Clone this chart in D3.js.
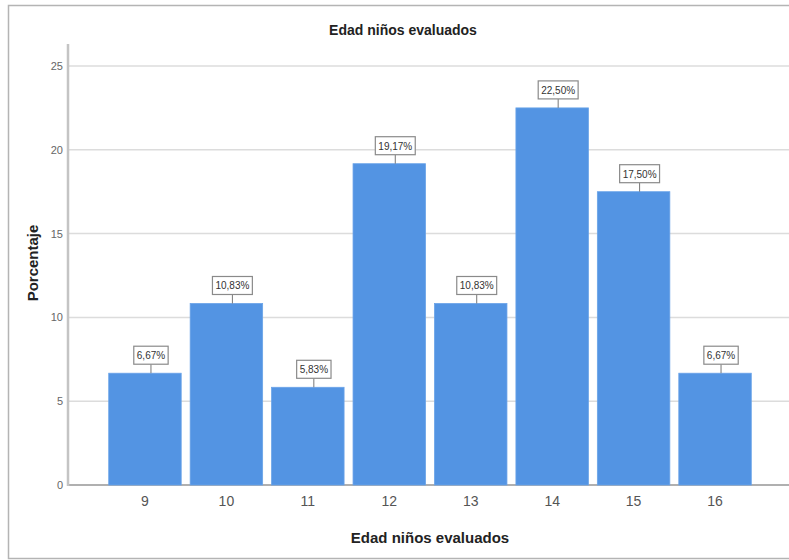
<!DOCTYPE html>
<html>
<head>
<meta charset="utf-8">
<script src="https://cdn.jsdelivr.net/npm/d3@7"></script>
<style>
  html, body { margin: 0; padding: 0; background: #fff; }
  svg { display: block; }
</style>
</head>
<body>
<svg id="chart" width="789" height="560"></svg>
<script>
const categories = ["9", "10", "11", "12", "13", "14", "15", "16"];
const values = [6.67, 10.83, 5.83, 19.17, 10.83, 22.50, 17.50, 6.67];
const yTicks = [0, 5, 10, 15, 20, 25];
const chartTitle = "Edad niños evaluados";
const xTitle = "Edad niños evaluados";
const yTitle = "Porcentaje";

const svg = d3.select("#chart");
const W = 789, H = 560;

// outer frame
svg.append("rect")
  .attr("x", 8.5).attr("y", 5.5)
  .attr("width", 800).attr("height", 553)
  .attr("fill", "#fff")
  .attr("stroke", "#b4b4b4").attr("stroke-width", 1.5);

const x = d3.scaleBand()
  .domain(categories)
  .range([68, 792])
  .paddingInner(0.11)
  .paddingOuter(0.5);

const y = d3.scaleLinear()
  .domain([0, 25])
  .range([485, 66]);

// gridlines
svg.append("g")
  .selectAll("line")
  .data(yTicks)
  .join("line")
  .attr("x1", 68).attr("x2", W)
  .attr("y1", d => y(d)).attr("y2", d => y(d))
  .attr("stroke", d => d === 0 ? "#b0b0b0" : "#dcdcdc")
  .attr("stroke-width", d => d === 0 ? 2 : 1.5);

// y axis
const yAxis = d3.axisLeft(y).tickValues(yTicks).tickSize(0).tickPadding(5).tickFormat(d3.format("d"));
const gy = svg.append("g").attr("transform", "translate(68,0)").call(yAxis);
gy.select(".domain").remove();
gy.selectAll("text")
  .attr("fill", "#666")
  .style("font-family", "'Liberation Sans Narrow', 'Arial Narrow', 'Liberation Sans', sans-serif")
  .style("font-size", "11px");
svg.append("line")
  .attr("x1", 68).attr("x2", 68)
  .attr("y1", 44).attr("y2", 486)
  .attr("stroke", "#c4c4c4").attr("stroke-width", 2.5);

// bars
svg.append("g")
  .selectAll("rect")
  .data(values)
  .join("rect")
  .attr("x", (d, i) => x(categories[i]))
  .attr("y", d => y(d))
  .attr("width", x.bandwidth())
  .attr("height", d => y(0) - y(d))
  .attr("fill", "#5394e3")
  .attr("stroke", "#6aa3e8").attr("stroke-width", 0.8);

// x axis
const xAxis = d3.axisBottom(x).tickSize(0).tickPadding(10);
const gx = svg.append("g").attr("transform", "translate(0,486)").call(xAxis);
gx.select(".domain").remove();
gx.selectAll("text")
  .attr("fill", "#555")
  .style("font-family", "'Liberation Sans', Arial, sans-serif")
  .style("font-size", "14px");

// value labels (slightly offset right of bar centre, as in the original)
const lab = svg.append("g").selectAll("g")
  .data(values)
  .join("g")
  .attr("transform", (d, i) => `translate(${x(categories[i]) + x.bandwidth() / 2 + 6},${y(d)})`);
lab.append("line")
  .attr("x1", 0).attr("x2", 0)
  .attr("y1", 0).attr("y2", -9)
  .attr("stroke", "#777").attr("stroke-width", 1);
const boxes = lab.append("rect")
  .attr("fill", "#fff").attr("stroke", "#8a8a8a").attr("stroke-width", 1.2);
const txt = lab.append("text")
  .attr("text-anchor", "middle")
  .attr("y", -14)
  .attr("fill", "#333")
  .style("font-family", "'Liberation Sans', Arial, sans-serif")
  .style("font-size", "10px")
  .text(d => d3.format(".2f")(d).replace(".", ",") + "%");
txt.each(function (d, i) {
  const w = this.getComputedTextLength();
  d3.select(boxes.nodes()[i])
    .attr("x", -w / 2 - 3).attr("y", -27)
    .attr("width", w + 6).attr("height", 18);
});

// titles
svg.append("text")
  .attr("x", 403).attr("y", 35)
  .attr("text-anchor", "middle")
  .attr("fill", "#222")
  .style("font-family", "'Liberation Sans', Arial, sans-serif")
  .style("font-size", "14px").style("font-weight", "bold")
  .text(chartTitle);

svg.append("text")
  .attr("x", 430).attr("y", 543)
  .attr("text-anchor", "middle")
  .attr("fill", "#222")
  .style("font-family", "'Liberation Sans', Arial, sans-serif")
  .style("font-size", "15px").style("font-weight", "bold")
  .text(xTitle);

svg.append("text")
  .attr("transform", "translate(38,263) rotate(-90)")
  .attr("text-anchor", "middle")
  .attr("fill", "#222")
  .style("font-family", "'Liberation Sans', Arial, sans-serif")
  .style("font-size", "15px").style("font-weight", "bold")
  .text(yTitle);
</script>
</body>
</html>
